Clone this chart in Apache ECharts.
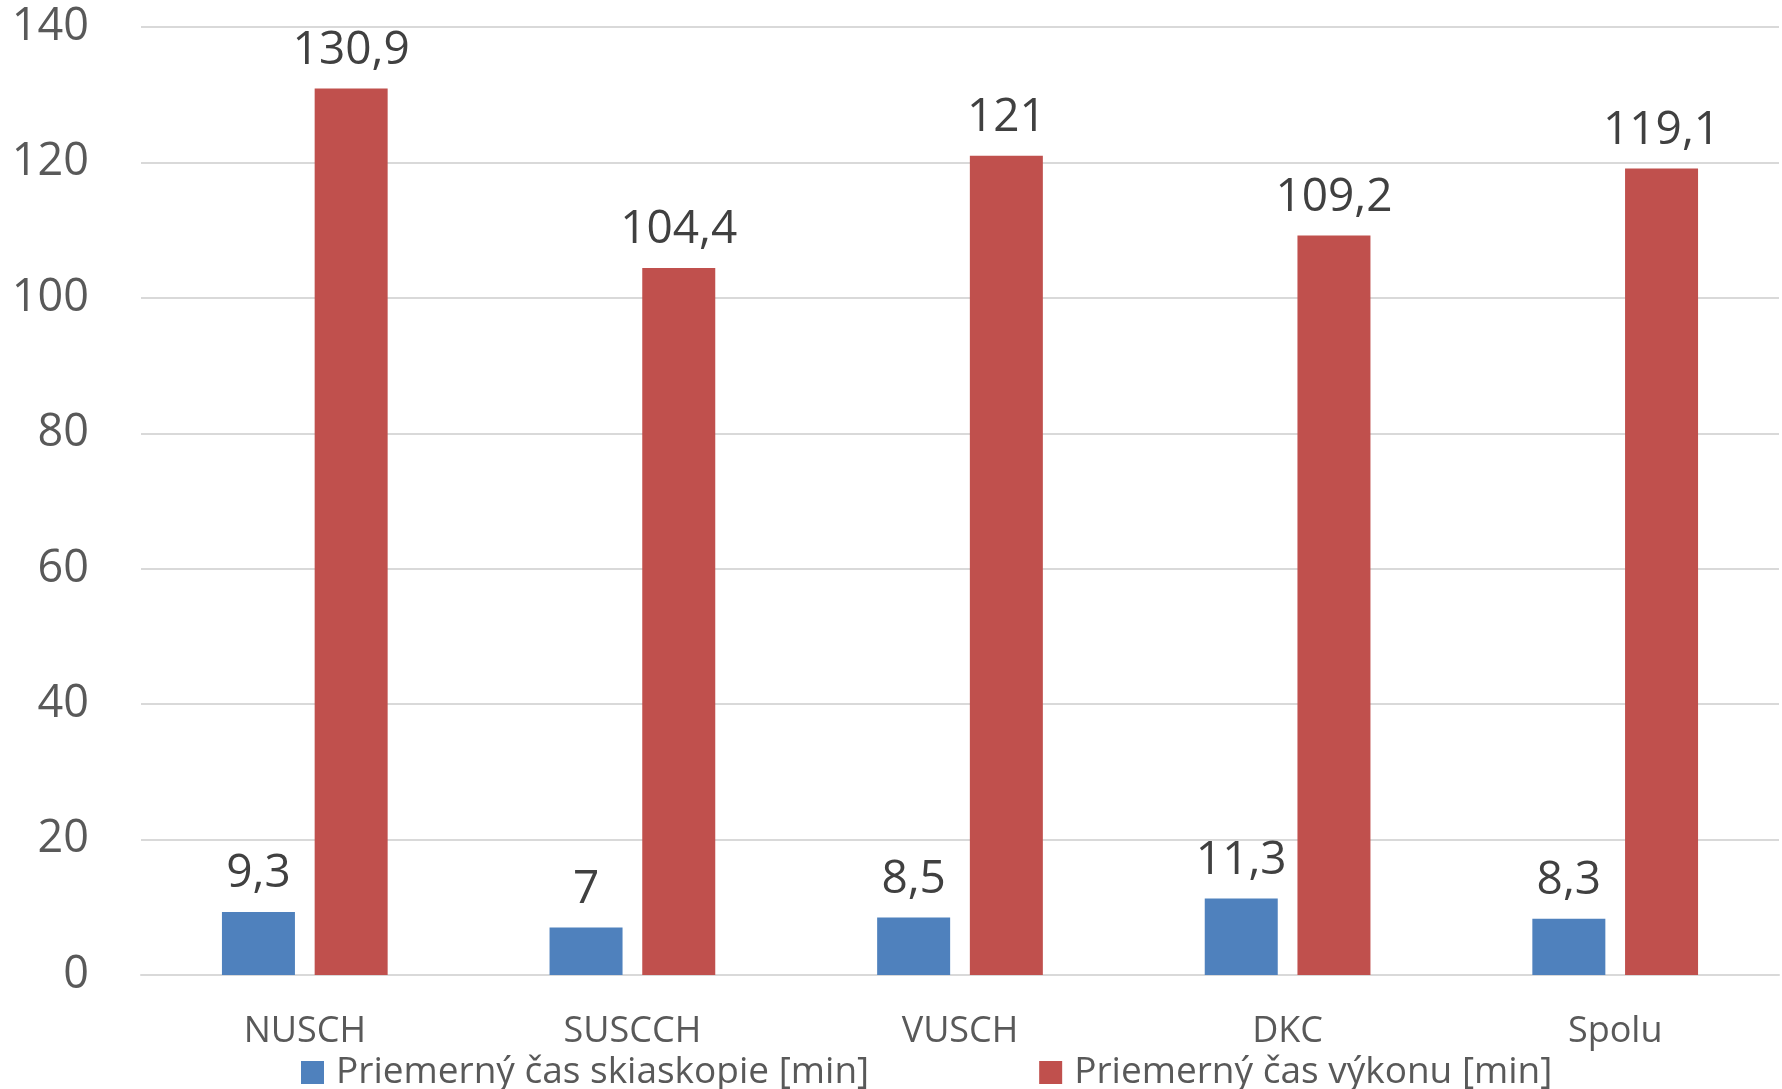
<!DOCTYPE html>
<html>
<head>
<meta charset="utf-8">
<script src="https://cdn.jsdelivr.net/npm/echarts@6/dist/echarts.min.js"></script>
<style>
html,body{margin:0;padding:0;background:#fff;}
#chart{width:1782px;height:1089px;}
</style>
</head>
<body>
<div id="chart"></div>
<script>
const categories = ['NUSCH', 'SUSCCH', 'VUSCH', 'DKC', 'Spolu'];
const seriesNames = ['Priemerný čas skiaskopie [min]', 'Priemerný čas výkonu [min]'];
const skiaskopia = [9.3, 7, 8.5, 11.3, 8.3];
const vykon = [130.9, 104.4, 121, 109.2, 119.1];
const yTicks = { min: 0, max: 140, interval: 20 };

const FONT = '"Open Sans", sans-serif';
const chart = echarts.init(document.getElementById('chart'), null, { renderer: 'canvas' });
const fmt = p => String(p.value).replace('.', ',');
const labelCfg = {
  show: true, position: 'top', distance: 15,
  formatter: fmt, color: '#404040', fontSize: 46, fontFamily: FONT
};
chart.setOption({
  backgroundColor: '#ffffff',
  animation: false,
  grid: { left: 141, right: 3, top: 27, bottom: 114, containLabel: false },
  legend: {
    left: 296, top: 1049,
    itemWidth: 23, itemHeight: 23, itemGap: 170,
    icon: 'rect',
    textStyle: { fontSize: 37, color: '#595959', fontFamily: FONT, padding: [0, 0, 0, 7] },
    data: seriesNames
  },
  xAxis: {
    type: 'category', data: categories,
    axisLine: { lineStyle: { color: '#d9d9d9', width: 2 } },
    axisTick: { show: false },
    axisLabel: { fontSize: 36, color: '#595959', fontFamily: FONT, margin: 39 }
  },
  yAxis: {
    type: 'value', min: yTicks.min, max: yTicks.max, interval: yTicks.interval,
    axisLine: { show: false }, axisTick: { show: false },
    splitLine: { lineStyle: { color: '#d9d9d9', width: 2 } },
    axisLabel: { fontSize: 45, color: '#595959', fontFamily: FONT, margin: 52 }
  },
  series: [
    { name: seriesNames[0], type: 'bar', data: skiaskopia, barWidth: 73, barGap: '27%',
      itemStyle: { color: '#4f81bd' }, label: labelCfg },
    { name: seriesNames[1], type: 'bar', data: vykon, barWidth: 73, barGap: '27%',
      itemStyle: { color: '#c0504d' }, label: labelCfg }
  ]
});
</script>
</body>
</html>
